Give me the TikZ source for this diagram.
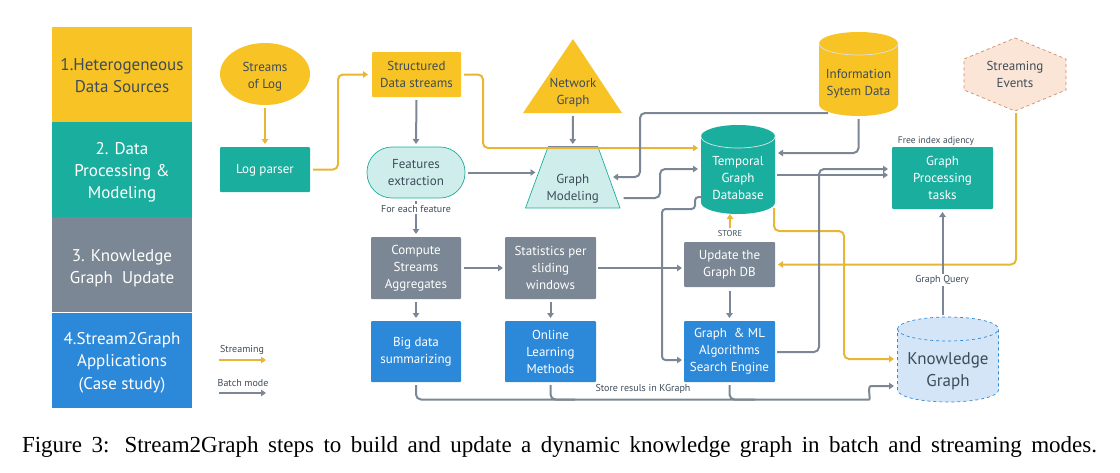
\documentclass[tikz,border=0pt]{standalone}
\usepackage{fontspec}
\setmainfont{Liberation Serif}
\newfontfamily\dinlike{PT Sans}
\usetikzlibrary{arrows.meta,shapes.geometric}
\definecolor{sunY}{HTML}{F7C325}
\definecolor{tealM}{HTML}{1AAE9F}
\definecolor{slateM}{HTML}{7B8794}
\definecolor{blueM}{HTML}{2C88D9}
\definecolor{inkM}{HTML}{3E4C59}
\definecolor{wireY}{HTML}{E8B634}
\definecolor{wireG}{HTML}{7B8794}
\definecolor{tealL}{HTML}{CFEDEA}
\definecolor{blueL}{HTML}{D3E5F6}
\definecolor{peachL}{HTML}{FBE5D6}
\definecolor{peachE}{HTML}{D08A66}

% Top strut of a label: a taller one sets its lines lower in the shape
\newcommand{\topgap}[1]{\rule{0pt}{#1pt}}

% Cylinder outline: x-left, x-right, y-top, y-bottom, ellipse radius, body style, lid style
\newcommand{\cylbody}[7]{%
  \pgfmathsetmacro\cylxm{(#1+#2)/2}%
  \pgfmathsetmacro\cylkx{.5523*(#2-#1)/2}%
  \pgfmathsetmacro\cylyc{#3+#5}%
  \pgfmathsetmacro\cylky{.5523*#5}%
  \pgfmathsetmacro\cylyb{#4-#5}%
  \pgfmathsetmacro\cylyl{#3+2*#5}%
  \path[#6] (#1,\cylyc) .. controls (#1,\cylyc-\cylky) and (\cylxm-\cylkx,#3) .. (\cylxm,#3)
    .. controls (\cylxm+\cylkx,#3) and (#2,\cylyc-\cylky) .. (#2,\cylyc) -- (#2,\cylyb)
    .. controls (#2,\cylyb+\cylky) and (\cylxm+\cylkx,#4) .. (\cylxm,#4)
    .. controls (\cylxm-\cylkx,#4) and (#1,\cylyb+\cylky) .. (#1,\cylyb) -- cycle;
  \path[#7] (#1,\cylyc) .. controls (#1,\cylyc+\cylky) and (\cylxm-\cylkx,\cylyl) .. (\cylxm,\cylyl)
    .. controls (\cylxm+\cylkx,\cylyl) and (#2,\cylyc+\cylky) .. (#2,\cylyc);
}

\tikzset{
  base/.style={inner sep=0pt,outer sep=0pt,align=center,
    font=\dinlike\fontsize{13}{17}\selectfont},
  band/.style={base,rectangle,minimum width=140pt,minimum height=95pt,
    font=\dinlike\fontsize{17}{22.3}\selectfont},
  tile/.style={base,rectangle,rounded corners=1pt,text=white},
  bare/.style={base,text=inkM},
  tiny/.style={inner sep=1pt,text=inkM,font=\dinlike\fontsize{10}{11}\selectfont},
  wire/.style={line width=2pt,rounded corners=5pt,
    -{Triangle[length=5pt,width=6.5pt]}},
  ylw/.style={wire,draw=wireY},
  gry/.style={wire,draw=wireG},
  plainwire/.style={line width=2pt,rounded corners=5pt,draw=wireG},
}

\begin{document}
\begin{tikzpicture}[x=1pt,y=-1pt]
\useasboundingbox (0,0) rectangle (1120,472);

% Phase bands on the left
\node[band,fill=sunY,text=inkM] (s1) at (122,74.5) {\topgap{14.7}1.Heterogeneous\\Data Sources};
\node[band,fill=tealM,text=white] (s2) at (122,169.5) {\topgap{17.7}2. Data\\Processing \&\\Modeling};
\node[band,fill=slateM,text=white] (s3) at (122,264.5) {\topgap{18.7}3. Knowledge\\Graph\ \ Update};
\node[band,fill=blueM,text=white] (s4) at (122,360) {\topgap{17.7}4.Stream2Graph\\Applications\\(Case study)};

% Plain boxes
\node[tile,fill=tealM,minimum width=90pt,minimum height=45pt] (logp) at (265,169.5) {\topgap{11.5}Log parser};
\node[tile,fill=sunY,text=inkM,minimum width=89pt,minimum height=45pt] (struct) at (416.5,74.5) {Structured\\Data streams};
\node[tile,fill=slateM,minimum width=90pt,minimum height=62pt] (compute) at (416,268) {Compute\\Streams\\Aggregates};
\node[tile,fill=slateM,minimum width=91pt,minimum height=62pt] (stats) at (550.5,268) {Statistics per\\sliding\\windows};
\node[tile,fill=blueM,minimum width=90pt,minimum height=61pt] (bigd) at (416,351.5) {Big data\\summarizing};
\node[tile,fill=blueM,minimum width=91pt,minimum height=61pt] (online) at (550.5,351.5) {Online\\Learning\\Methods};
\node[tile,fill=slateM,minimum width=91pt,minimum height=45pt] (update) at (729.5,264.5) {Update the\\Graph DB};
\node[tile,fill=blueM,minimum width=91pt,minimum height=61pt] (gml) at (729.5,351.5) {Graph\ \ \& ML\\Algorithms\\Search Engine};
\node[tile,fill=tealM,minimum width=101pt,minimum height=62pt] (gp) at (942.5,178) {Graph\\Processing\\tasks};

% Rounded shapes
\node[base,ellipse,fill=sunY,text=inkM,minimum width=90pt,minimum height=62pt] (logs) at (265,74) {\topgap{15.5}Streams\\of Log};
\node[base,rectangle,rounded corners=25pt,fill=tealL,draw=tealM,line width=.7pt,text=inkM,
  minimum width=98pt,minimum height=51pt] (feat) at (416,172.5) {Features\\extraction};

% Triangle, trapezium and hexagon with their labels
\path[fill=sunY] (573,39) -- (622,113) -- (523,113) -- cycle;
\node[bare,minimum width=60pt,minimum height=44pt] (net) at (573,91) {\topgap{13.5}Network\\Graph};
\path[fill=tealL,draw=tealM,line width=.7pt] (548,147) -- (598,147) -- (620,208) -- (525.5,208) -- cycle;
\draw[wireG,line width=1.2pt] (548,147) -- (598,147);
\node[bare,minimum width=94.5pt,minimum height=42pt] (gm) at (572.75,187) {\topgap{12.5}Graph\\Modeling};
\path[fill=peachL,draw=peachE,line width=.7pt,dashed] (1015,38) -- (1066,59) -- (1066,90) -- (1015,111) -- (964,90) -- (964,59) -- cycle;
\node[bare,minimum width=102pt,minimum height=73pt] (events) at (1015,74.5) {Streaming\\Events};

% Cylinders with their labels
\cylbody{819}{898}{32}{116}{11.5}{fill=sunY}{draw=white!75!slateM,line width=.7pt}
\node[bare,minimum width=79pt,minimum height=66pt] (info) at (858.5,83) {\topgap{11.5}Information\\Sytem Data};
\cylbody{701}{775}{125}{214}{11.5}{fill=tealM}{draw=white!75!slateM,line width=.7pt}
\node[base,text=white,minimum width=74pt,minimum height=72pt] (temp) at (738,178) {Temporal\\Graph\\Database};
\cylbody{897.5}{998.5}{317}{402}{12}{fill=blueL,draw=blueM,line width=.7pt,dashed}{draw=blueM,line width=.7pt,dashed}
\node[bare,minimum width=101pt,minimum height=68pt,font=\dinlike\fontsize{17}{22.3}\selectfont] (kg) at (948,368) {\topgap{18.7}Knowledge\\Graph};

% Streaming connectors
\draw[ylw] ([shift={(0,3)}]logs.south) -- ([shift={(0,-3)}]logp.north);
\draw[ylw] ([shift={(3,0)}]logp.east) -| (338,120) |- ([shift={(-4,0)}]struct.west);
\draw[ylw] ([shift={(3,0)}]struct.east) -| (483,110) |- ([shift={(-3,-30)}]temp.west);
\draw[ylw] ([shift={(-1,-6)}]temp.south east) |- (810,231) -| (844,300) |- ([shift={(-3.5,-9)}]kg.west);
\draw[ylw] ([shift={(1,2)}]events.south) |- ([shift={(3,0)}]update.east);
\draw[ylw,rounded corners=0pt] ([shift={(0.5,-14)}]update.north) -- ([shift={(-8,0)}]temp.south);

% Batch connectors
\draw[gry] ([shift={(0,3)}]struct.south) -- ([shift={(0,-3)}]feat.north);
\draw[gry] ([shift={(3,0)}]feat.east) -- ([shift={(10,-14.5)}]gm.west);
\draw[gry] ([shift={(0,3)}]net.south) -- ([shift={(0,-3)}]gm.north |- 0,147);
\draw[gry] ([shift={(9,-3)}]info.south west) -| (640,150) |- ([shift={(-7,-10)}]gm.east);
\draw[gry] ([shift={(0,3)}]info.south) |- ([shift={(3,-25)}]temp.east);
\draw[gry] ([shift={(3.5,11)}]gm.east) -| (660,185) |- ([shift={(-3,-9)}]temp.west);
\draw[gry] ([shift={(2,-3)}]temp.east) -- ([shift={(-4,-3)}]gp.west);
\draw[gry] ([shift={(2,.5)}]gml.east) -| (819,260) |- ([shift={(-4,-9)}]gp.west);
\draw[gry,rounded corners=3.5pt] ([shift={(1,19)}]temp.west) -- (695,197) -- (695,209) -- (662,209) -- (662,360) -- ([shift={(-2,8.5)}]gml.west);
\draw[gry] ([shift={(2.5,0)}]compute.east) -- ([shift={(-2,0)}]stats.west);
\draw[gry] ([shift={(2,0)}]stats.east) -- ([shift={(-2,0)}]stats.east -| update.west);
\draw[gry] ([shift={(0,3)}]compute.south) -- ([shift={(0,-3)}]bigd.north);
\draw[gry] ([shift={(0,3)}]stats.south) -- ([shift={(0,-3)}]online.north);
\draw[gry] ([shift={(0,4)}]update.south) -- ([shift={(0,-3)}]gml.north);

% Feature branch with its label
\draw[gry] ([shift={(0,3)}]feat.south) -- ([shift={(0,-3)}]compute.north);
\node[tiny,fill=white] (each) at (416,209) {For each feature};

% Results collected into the knowledge graph
\draw[gry] ([shift={(0,3)}]bigd.south) -- (416,399.5) -- (864,399.5)
  .. controls (871,399.5) and (867,386) .. (876,386) -- ([shift={(-3.5,18)}]kg.west);
\draw[plainwire] ([shift={(0,3)}]online.south) |- (575,399.5);
\draw[plainwire] ([shift={(0,3)}]gml.south) |- (755,399.5);
\node[tiny,anchor=center] (store) at (643,389) {Store resuls in KGraph};

% Query from the knowledge graph
\coordinate (kgtop) at (942.5,315);
\draw[gry] (kgtop) -- ([shift={(0,3)}]gp.south);
\node[tiny,fill=white] (query) at (942,280) {Graph Query};

\node[tiny,font=\dinlike\fontsize{8.5}{10}\selectfont] (storelbl) at (730,234) {STORE};
\node[tiny,font=\dinlike\fontsize{9.5}{11}\selectfont] (free) at (936,141) {Free index adjency};

% Legend
\node[tiny] (lgs) at (242,350) {Streaming};
\coordinate (lgsa) at (219,360);
\coordinate (lgsb) at (266,360);
\draw[ylw] (lgsa) -- (lgsb);
\node[tiny] (lgb) at (243,383) {Batch mode};
\coordinate (lgba) at (219,393);
\coordinate (lgbb) at (266,393);
\draw[gry] (lgba) -- (lgbb);

% Caption
\node[inner sep=0pt,text=black,font=\fontsize{23}{26}\selectfont] (cap) at (559.5,447)
  {\hbox to 1075pt{Figure 3: Stream2Graph steps to build and update a dynamic knowledge graph in batch and streaming modes.}};
\end{tikzpicture}
\end{document}
